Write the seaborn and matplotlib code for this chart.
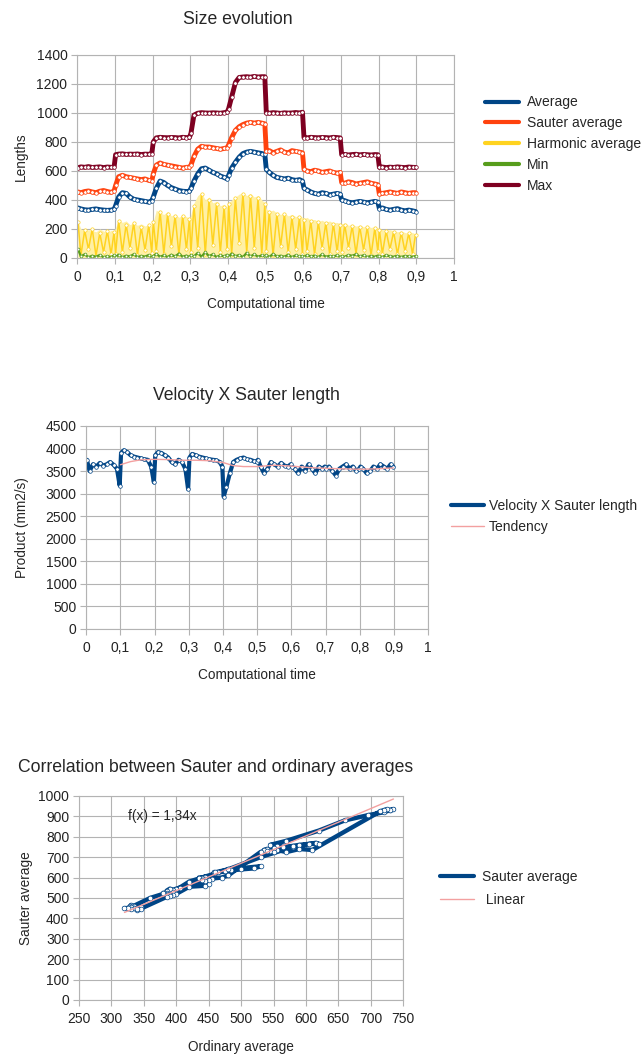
import numpy as np
import pandas as pd
import matplotlib
matplotlib.use("Agg")
import matplotlib.pyplot as plt
from matplotlib.lines import Line2D
from matplotlib.ticker import FuncFormatter, MultipleLocator
import seaborn as sns

# sample times (same grid for both time charts)
T = [0.002, 0.01, 0.02, 0.03, 0.04, 0.05, 0.06, 0.07, 0.08, 0.09, 0.098,
     0.102, 0.11, 0.12, 0.13, 0.14, 0.15, 0.16, 0.17, 0.18, 0.19, 0.198,
     0.202, 0.21, 0.22, 0.23, 0.24, 0.25, 0.26, 0.27, 0.28, 0.29, 0.298,
     0.302, 0.31, 0.32, 0.33, 0.34, 0.35, 0.36, 0.37, 0.38, 0.39, 0.398,
     0.402, 0.41, 0.42, 0.43, 0.44, 0.45, 0.46, 0.47, 0.48, 0.49, 0.498,
     0.502, 0.51, 0.52, 0.53, 0.54, 0.55, 0.56, 0.57, 0.58, 0.59, 0.598,
     0.602, 0.61, 0.62, 0.63, 0.64, 0.65, 0.66, 0.67, 0.68, 0.69, 0.698,
     0.702, 0.71, 0.72, 0.73, 0.74, 0.75, 0.76, 0.77, 0.78, 0.79, 0.798,
     0.802, 0.81, 0.82, 0.83, 0.84, 0.85, 0.86, 0.87, 0.88, 0.89, 0.898]

AVERAGE = [345, 338, 332, 330, 335, 338, 333, 330, 328, 330, 335,
           360, 420, 450, 445, 420, 405, 400, 395, 390, 385, 395,
           420, 480, 530, 520, 500, 485, 475, 465, 460, 458, 460,
           480, 530, 580, 615, 620, 605, 590, 580, 565, 555, 545,
           570, 620, 660, 695, 720, 730, 735, 730, 725, 720, 715,
           610, 590, 570, 555, 550, 545, 550, 540, 535, 540, 530,
           480, 470, 455, 445, 440, 450, 445, 435, 440, 445, 440,
           400, 395, 385, 380, 385, 390, 385, 380, 385, 390, 385,
           340, 345, 335, 330, 335, 340, 330, 325, 330, 325, 320]

SAUTER = [455, 450, 458, 462, 455, 450, 460, 465, 458, 452, 462,
          500, 560, 570, 560, 555, 550, 545, 540, 545, 535, 530,
          580, 640, 655, 645, 640, 635, 630, 625, 620, 625, 625,
          640, 700, 750, 770, 765, 765, 760, 755, 750, 755, 760,
          780, 830, 880, 905, 920, 930, 935, 930, 935, 930, 925,
          735, 740, 725, 735, 745, 730, 725, 740, 735, 730, 725,
          610, 600, 595, 605, 600, 590, 595, 600, 590, 585, 590,
          520, 515, 525, 520, 510, 515, 520, 525, 515, 510, 505,
          440, 445, 450, 455, 450, 445, 455, 450, 445, 450, 450]

HARMONIC = [250, 20, 190, 60, 200, 15, 170, 40, 185, 25, 180,
            30, 255, 40, 230, 70, 240, 20, 210, 55, 225, 35,
            250, 50, 320, 30, 300, 80, 290, 25, 290, 60, 270,
            40, 360, 70, 440, 30, 400, 90, 370, 40, 350, 60,
            370, 30, 410, 100, 440, 40, 430, 70, 410, 30, 370,
            50, 320, 20, 300, 80, 300, 40, 280, 60, 280, 30,
            260, 50, 255, 25, 245, 70, 240, 30, 235, 45, 230,
            40, 230, 70, 220, 30, 215, 55, 210, 20, 205, 45,
            195, 30, 185, 60, 180, 25, 175, 45, 170, 30, 160]

# upper edge of the harmonic-average point cloud
HARMONIC_TOP = [250, 200, 185, 195, 190, 180, 200, 185, 175, 190, 185,
                210, 260, 245, 255, 230, 240, 225, 235, 220, 230, 215,
                250, 330, 310, 300, 320, 290, 300, 280, 295, 285, 270,
                300, 380, 430, 450, 400, 420, 380, 390, 360, 370, 350,
                380, 400, 420, 440, 450, 430, 445, 420, 430, 400, 380,
                340, 320, 330, 310, 300, 310, 290, 300, 285, 290, 280,
                270, 280, 260, 265, 250, 260, 245, 255, 240, 245, 235,
                235, 240, 225, 230, 220, 225, 215, 220, 210, 215, 205,
                200, 195, 190, 195, 185, 180, 185, 175, 170, 175, 165]

MIN = [60, 10, 25, 5, 15, 8, 20, 5, 12, 6, 18,
       8, 22, 5, 15, 10, 25, 6, 14, 9, 20, 5,
       12, 28, 8, 18, 6, 22, 10, 30, 8, 16, 6,
       20, 10, 35, 8, 40, 12, 25, 6, 18, 10, 22,
       8, 30, 12, 20, 6, 35, 10, 25, 8, 18, 12,
       20, 6, 28, 10, 15, 8, 22, 5, 18, 10, 14,
       6, 20, 10, 16, 5, 25, 8, 14, 10, 18, 6,
       12, 8, 20, 15, 25, 10, 18, 6, 14, 8, 16,
       10, 6, 18, 12, 8, 15, 6, 14, 10, 8, 12]

MAX = [622, 628, 625, 630, 624, 626, 628, 623, 627, 625, 626,
       712, 716, 718, 714, 716, 715, 717, 713, 716, 715, 718,
       800, 828, 832, 830, 829, 831, 830, 828, 832, 830, 831,
       860, 985, 998, 1002, 1000, 999, 1001, 1000, 998, 1002, 1005,
       1030, 1110, 1210, 1245, 1248, 1250, 1247, 1252, 1248, 1250, 1250,
       1000, 998, 1002, 1000, 997, 1001, 999, 1000, 1003, 1000, 1005,
       830, 828, 832, 830, 829, 831, 830, 828, 832, 830, 828,
       712, 714, 710, 713, 715, 711, 714, 712, 710, 713, 712,
       625, 627, 623, 626, 624, 628, 625, 623, 627, 625, 624]

VELOCITY_SAUTER = [3750, 3500, 3650, 3600, 3680, 3620, 3650, 3700, 3640, 3550, 3180,
                   3900, 3960, 3920, 3850, 3820, 3800, 3780, 3760, 3750, 3600, 3250,
                   3850, 3920, 3900, 3850, 3800, 3700, 3650, 3750, 3700, 3550, 3100,
                   3800, 3880, 3850, 3820, 3800, 3780, 3760, 3750, 3740, 3700, 3600,
                   2930, 3150, 3450, 3700, 3750, 3780, 3800, 3760, 3750, 3720, 3700,
                   3750, 3600, 3450, 3550, 3700, 3650, 3600, 3680, 3620, 3600, 3650,
                   3600, 3550, 3450, 3600, 3500, 3650, 3550, 3450, 3600, 3550, 3600,
                   3550, 3600, 3500, 3400, 3550, 3600, 3650, 3550, 3600, 3500, 3550,
                   3600, 3550, 3450, 3500, 3600, 3550, 3650, 3600, 3550, 3650, 3600]

TEND_T = [0.10, 0.13, 0.16, 0.20, 0.24, 0.28, 0.32, 0.36, 0.40, 0.43,
          0.46, 0.50, 0.55, 0.60, 0.65, 0.70, 0.75, 0.80, 0.85, 0.898]
TEND_V = [3640, 3710, 3750, 3760, 3755, 3740, 3740, 3730, 3690, 3620,
          3600, 3600, 3630, 3610, 3580, 3560, 3550, 3540, 3550, 3570]

LINEAR_SLOPE = 1.34

SIZE_LABELS = ["Average", "Sauter average", "Harmonic average", "Min", "Max"]
SIZE_COLORS = ["#004586", "#ff420e", "#ffd320", "#579d1c", "#7e0021"]
PINK = "#f3a0a0"

sns.set_theme(style="whitegrid")
plt.rcParams['font.family'] = ['Liberation Sans', 'DejaVu Sans']

GRID = "#b3b3b3"
LBL = 9.8
TTL = 12.7
LEG = 10


def comma(v, pos):
    return f"{v:g}".replace('.', ',')


def style_axes(ax):
    ax.set_facecolor("white")
    ax.grid(True, color=GRID, linewidth=0.8)
    for s in ax.spines.values():
        s.set_color(GRID)
        s.set_linewidth(0.8)
    ax.tick_params(axis='both', which='major', length=4, width=0.8, color=GRID,
                   labelsize=10, labelcolor="#222222", pad=3)
    ax.tick_params(axis='x', pad=5)
    ax.tick_params(axis='both', bottom=True, left=True)
    ax.xaxis.set_major_formatter(FuncFormatter(comma))


def dotted_line(ax, x, y, color, lw, ms=2.6, sort=True):
    sns.lineplot(x=x, y=y, ax=ax, color=color, linewidth=lw, sort=sort,
                 estimator=None, marker='o', markersize=ms,
                 markerfacecolor='white', markeredgecolor=color,
                 markeredgewidth=0.5, legend=False)


fig = plt.figure(figsize=(6.43, 10.57), dpi=100)
fig.patch.set_facecolor("white")

# ---- Size evolution
ax1 = fig.add_axes([0.120, 0.756, 0.586, 0.192])
ax1.fill_between(T, 0, HARMONIC_TOP, color="#fff0a6", linewidth=0, zorder=1.5)
dotted_line(ax1, T, HARMONIC, SIZE_COLORS[2], 1.1, ms=2.4)
dotted_line(ax1, T, MIN, SIZE_COLORS[3], 1.6, ms=2.0)
dotted_line(ax1, T, AVERAGE, SIZE_COLORS[0], 3.5)
dotted_line(ax1, T, SAUTER, SIZE_COLORS[1], 3.5)
dotted_line(ax1, T, MAX, SIZE_COLORS[4], 3.5)
ax1.set_xlim(0, 1)
ax1.set_ylim(0, 1400)
ax1.xaxis.set_major_locator(MultipleLocator(0.1))
ax1.yaxis.set_major_locator(MultipleLocator(200))
style_axes(ax1)
ax1.set_xlabel("Computational time", fontsize=LBL, labelpad=9)
ax1.set_ylabel("Lengths", fontsize=LBL, labelpad=6)
fig.text(0.370, 0.982, "Size evolution", fontsize=TTL, ha='center', va='center')
h1 = [Line2D([], [], color=c, lw=3) for c in SIZE_COLORS]
fig.legend(h1, SIZE_LABELS, loc='upper left', bbox_to_anchor=(0.746, 0.915),
           frameon=False, fontsize=LEG, handlelength=2.4, labelspacing=0.5,
           handletextpad=0.6, borderaxespad=0)

# ---- Velocity X Sauter length
ax2 = fig.add_axes([0.134, 0.405, 0.532, 0.192])
dotted_line(ax2, T, VELOCITY_SAUTER, "#004586", 3.0)
sns.lineplot(x=TEND_T, y=TEND_V, ax=ax2, color=PINK, linewidth=1.0,
             legend=False)
ax2.set_xlim(0, 1)
ax2.set_ylim(0, 4500)
ax2.xaxis.set_major_locator(MultipleLocator(0.1))
ax2.yaxis.set_major_locator(MultipleLocator(500))
style_axes(ax2)
ax2.set_xlabel("Computational time", fontsize=LBL, labelpad=9)
ax2.set_ylabel("Product (mm2/s)", fontsize=LBL, labelpad=12)
fig.text(0.384, 0.626, "Velocity X Sauter length", fontsize=TTL, ha='center', va='center')
h2 = [Line2D([], [], color="#004586", lw=3), Line2D([], [], color=PINK, lw=1)]
fig.legend(h2, ["Velocity X Sauter length", "Tendency"], loc='upper left',
           bbox_to_anchor=(0.692, 0.533), frameon=False, fontsize=LEG,
           handlelength=2.4, labelspacing=0.5, handletextpad=0.35,
           borderaxespad=0)

# ---- Correlation between Sauter and ordinary averages
ax3 = fig.add_axes([0.123, 0.054, 0.504, 0.193])
dotted_line(ax3, AVERAGE, SAUTER, "#004586", 3.2, ms=3.4, sort=False)
fit_x = np.array([min(AVERAGE), max(AVERAGE)])
sns.lineplot(x=fit_x, y=LINEAR_SLOPE * fit_x, ax=ax3, color=PINK,
             linewidth=1.0, legend=False)
ax3.text(326, 900, "f(x) = " + f"{LINEAR_SLOPE:g}".replace('.', ',') + "x",
         fontsize=LBL, ha='left', va='center')
ax3.set_xlim(250, 750)
ax3.set_ylim(0, 1000)
ax3.xaxis.set_major_locator(MultipleLocator(50))
ax3.yaxis.set_major_locator(MultipleLocator(100))
style_axes(ax3)
ax3.set_xlabel("Ordinary average", fontsize=LBL, labelpad=10)
ax3.set_ylabel("Sauter average", fontsize=LBL, labelpad=4)
fig.text(0.335, 0.274, "Correlation between Sauter and ordinary averages",
         fontsize=TTL, ha='center', va='center')
h3 = [Line2D([], [], color="#004586", lw=3), Line2D([], [], color=PINK, lw=1)]
fig.legend(h3, ["Sauter average", " Linear"], loc='upper left',
           bbox_to_anchor=(0.676, 0.182), frameon=False, fontsize=LEG,
           handlelength=2.4, labelspacing=0.6, handletextpad=0.6,
           borderaxespad=0)

fig.savefig("out.png", dpi=100, facecolor="white")
